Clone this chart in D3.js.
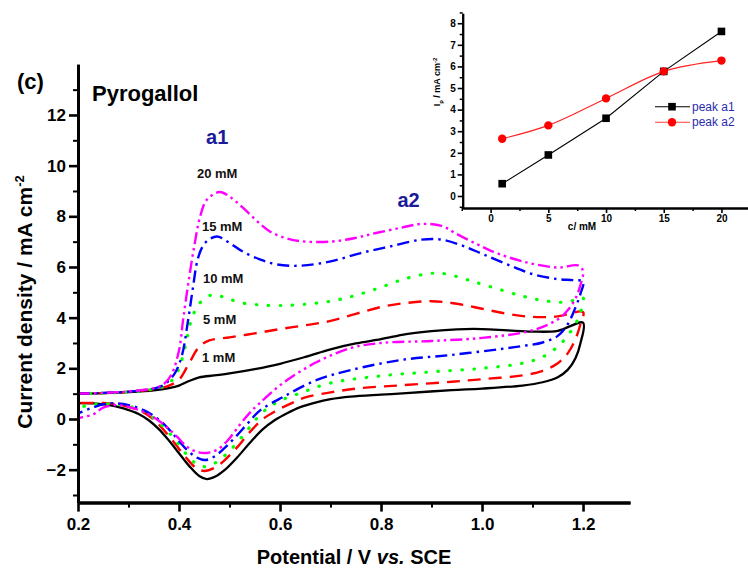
<!DOCTYPE html>
<html>
<head>
<meta charset="utf-8">
<script src="https://cdn.jsdelivr.net/npm/d3@7"></script>
<style>
  html, body { margin: 0; padding: 0; background: #fff; }
  svg { display: block; font-family: "Liberation Sans", Arial, sans-serif; }
</style>
</head>
<body>
<svg id="chart" width="748" height="568"></svg>
<script>
// Cyclic voltammograms of pyrogallol, [potential / V vs SCE, current density / mA cm^-2]
// anodic sweep 0.2 -> 1.2 V, then cathodic sweep back to 0.2 V
const cv1mMForward = [[0.20,1.00],[0.25,1.02],[0.30,1.06],[0.35,1.13],[0.38,1.22],[0.40,1.32],[0.42,1.50],[0.44,1.64],[0.47,1.72],[0.50,1.80],[0.55,1.97],[0.60,2.18],[0.65,2.45],[0.70,2.75],[0.75,2.98],[0.80,3.15],[0.85,3.35],[0.90,3.47],[0.95,3.54],[1.00,3.55],[1.05,3.50],[1.10,3.45],[1.15,3.48],[1.20,3.80]];
const cv1mMReverse = [[1.20,3.80],[1.195,3.00],[1.185,2.40],[1.17,1.95],[1.15,1.65],[1.12,1.45],[1.08,1.32],[1.00,1.20],[0.94,1.14],[0.85,1.02],[0.80,0.96],[0.74,0.88],[0.70,0.78],[0.67,0.65],[0.64,0.47],[0.615,0.24],[0.59,-0.04],[0.565,-0.42],[0.54,-0.95],[0.515,-1.52],[0.49,-2.02],[0.472,-2.27],[0.455,-2.37],[0.44,-2.25],[0.42,-1.85],[0.40,-1.35],[0.38,-0.85],[0.36,-0.40],[0.34,-0.05],[0.32,0.20],[0.29,0.42],[0.26,0.56],[0.23,0.62],[0.20,0.63]];

const cv5mMForward = [[0.20,1.00],[0.25,1.02],[0.30,1.07],[0.35,1.17],[0.38,1.32],[0.40,1.55],[0.42,2.20],[0.44,2.85],[0.46,3.10],[0.50,3.22],[0.55,3.38],[0.60,3.55],[0.65,3.70],[0.70,3.87],[0.75,4.15],[0.80,4.42],[0.85,4.58],[0.90,4.65],[0.95,4.55],[1.00,4.35],[1.05,4.15],[1.10,4.03],[1.15,4.05],[1.20,4.22]];
const cv5mMReverse = [[1.20,4.22],[1.195,3.75],[1.185,3.15],[1.17,2.60],[1.15,2.20],[1.12,1.90],[1.08,1.72],[1.00,1.57],[0.94,1.47],[0.84,1.33],[0.76,1.22],[0.70,1.05],[0.65,0.85],[0.62,0.60],[0.59,0.30],[0.565,-0.02],[0.54,-0.52],[0.515,-1.12],[0.49,-1.63],[0.47,-1.93],[0.45,-2.05],[0.435,-1.95],[0.415,-1.55],[0.395,-1.05],[0.375,-0.55],[0.355,-0.12],[0.335,0.20],[0.31,0.42],[0.28,0.57],[0.25,0.63],[0.20,0.63]];

const cv10mMForward = [[0.20,1.00],[0.25,1.02],[0.30,1.07],[0.35,1.18],[0.37,1.30],[0.39,1.62],[0.405,2.30],[0.415,3.10],[0.425,3.95],[0.44,4.55],[0.465,4.90],[0.49,4.80],[0.52,4.60],[0.56,4.50],[0.60,4.48],[0.65,4.53],[0.70,4.65],[0.75,4.88],[0.80,5.20],[0.85,5.55],[0.90,5.75],[0.93,5.72],[0.97,5.50],[1.02,5.20],[1.08,4.85],[1.13,4.65],[1.17,4.62],[1.20,4.78]];
const cv10mMReverse = [[1.20,4.78],[1.195,4.20],[1.185,3.75],[1.17,3.30],[1.15,2.85],[1.12,2.45],[1.08,2.20],[1.00,2.00],[0.90,1.86],[0.80,1.70],[0.70,1.42],[0.64,1.02],[0.60,0.72],[0.575,0.42],[0.555,0.05],[0.535,-0.45],[0.51,-1.05],[0.49,-1.45],[0.47,-1.75],[0.452,-1.88],[0.435,-1.78],[0.415,-1.40],[0.395,-0.90],[0.375,-0.42],[0.355,-0.05],[0.335,0.25],[0.31,0.45],[0.28,0.57],[0.25,0.60],[0.225,0.55],[0.20,0.45]];

const cv15mMForward = [[0.20,1.00],[0.25,1.03],[0.30,1.08],[0.35,1.20],[0.37,1.35],[0.39,1.75],[0.405,2.45],[0.418,3.90],[0.427,5.10],[0.437,6.30],[0.448,6.85],[0.462,7.12],[0.477,7.20],[0.50,6.95],[0.527,6.60],[0.56,6.30],[0.594,6.10],[0.64,6.05],[0.70,6.22],[0.76,6.55],[0.82,6.82],[0.88,7.08],[0.92,7.08],[0.96,6.85],[1.00,6.52],[1.05,6.10],[1.10,5.72],[1.15,5.52],[1.18,5.48],[1.20,5.42]];
const cv15mMReverse = [[1.20,5.42],[1.195,4.95],[1.185,4.40],[1.17,3.75],[1.15,3.28],[1.12,3.02],[1.08,2.88],[1.036,2.76],[0.94,2.53],[0.84,2.33],[0.74,1.93],[0.673,1.54],[0.606,0.87],[0.56,0.33],[0.535,-0.20],[0.51,-0.75],[0.49,-1.15],[0.47,-1.48],[0.452,-1.62],[0.435,-1.52],[0.415,-1.20],[0.395,-0.75],[0.375,-0.30],[0.355,0.05],[0.33,0.35],[0.30,0.55],[0.27,0.62],[0.25,0.58],[0.225,0.42],[0.20,0.22]];

const cv20mMForward = [[0.20,1.00],[0.25,1.03],[0.30,1.09],[0.35,1.22],[0.37,1.38],[0.385,1.75],[0.40,2.70],[0.408,3.90],[0.418,5.30],[0.43,6.80],[0.442,8.00],[0.455,8.65],[0.48,8.96],[0.50,8.78],[0.527,8.33],[0.555,7.80],[0.58,7.40],[0.61,7.15],[0.64,7.02],[0.70,7.00],[0.75,7.15],[0.79,7.34],[0.84,7.55],[0.88,7.70],[0.92,7.62],[0.95,7.30],[0.99,6.90],[1.02,6.62],[1.08,6.22],[1.15,5.98],[1.19,6.06],[1.20,5.85]];
const cv20mMReverse = [[1.20,5.85],[1.195,5.30],[1.185,4.75],[1.17,4.30],[1.155,4.00],[1.13,3.72],[1.09,3.45],[1.00,3.20],[0.90,3.08],[0.80,3.00],[0.74,2.80],[0.673,2.25],[0.606,1.42],[0.56,0.63],[0.54,0.24],[0.52,-0.24],[0.495,-0.88],[0.475,-1.22],[0.455,-1.34],[0.435,-1.30],[0.415,-1.08],[0.395,-0.68],[0.375,-0.30],[0.355,0.00],[0.33,0.28],[0.30,0.48],[0.277,0.55],[0.25,0.45],[0.23,0.18],[0.20,0.04]];

const concentrationLabels = ["1 mM", "5 mM", "10 mM", "15 mM", "20 mM"];
const xTickValues = [0.2, 0.4, 0.6, 0.8, 1.0, 1.2];
const xMinorTicks = [0.3, 0.5, 0.7, 0.9, 1.1];
const yTickValues = [-2, 0, 2, 4, 6, 8, 10, 12];
const yMinorTicks = [-3, -1, 1, 3, 5, 7, 9, 11, 13];

// Inset: peak current vs. concentration
const insetConcentration = [1, 5, 10, 15, 20];
const peakA1 = [0.57, 1.90, 3.60, 5.77, 7.62];
const peakA2 = [2.65, 3.27, 4.52, 5.77, 6.27];
const insetXTicks = [0, 5, 10, 15, 20];
const insetXMinor = [-2.5, 2.5, 7.5, 12.5, 17.5, 22.5];
const insetYTicks = [0, 1, 2, 3, 4, 5, 6, 7, 8];
const insetYMinor = [-0.5, 0.5, 1.5, 2.5, 3.5, 4.5, 5.5, 6.5, 7.5, 8.5];

// ---------------------------------------------------------------
const svg = d3.select("#chart");

const x = d3.scaleLinear().domain([0.2, 1.293]).range([78, 630]);
const y = d3.scaleLinear().domain([-3.3, 14]).range([502.6, 64.3]);

const curves = [
  { fwd: cv1mMForward,  rev: cv1mMReverse,  color: "#000000", dash: null,                 width: 2.3, cap: "butt" },
  { fwd: cv5mMForward,  rev: cv5mMReverse,  color: "#ff0000", dash: "13 8",               width: 2.4, cap: "butt" },
  { fwd: cv10mMForward, rev: cv10mMReverse, color: "#00ff00", dash: "0.5 11.5",           width: 3.2, cap: "round" },
  { fwd: cv15mMForward, rev: cv15mMReverse, color: "#0000ff", dash: "12 5 2.5 5",         width: 2.4, cap: "butt" },
  { fwd: cv20mMForward, rev: cv20mMReverse, color: "#ff00ff", dash: "12 4 2.5 4 2.5 4",   width: 2.4, cap: "butt" }
];

const line = d3.line()
  .x(d => x(d[0]))
  .y(d => y(d[1]))
  .curve(d3.curveCatmullRom.alpha(0.5));

svg.append("g").selectAll("path")
  .data(curves)
  .join("path")
  .attr("d", c => line(c.fwd.concat(c.rev.slice(1))))
  .attr("fill", "none")
  .attr("stroke", c => c.color)
  .attr("stroke-width", c => c.width)
  .attr("stroke-dasharray", c => c.dash)
  .attr("stroke-linecap", c => c.cap)
  .attr("stroke-linejoin", "round");

// Axes
function styleAxis(g, domainWidth, tickWidth, fontSize) {
  g.select(".domain").attr("stroke", "#000").attr("stroke-width", domainWidth);
  g.selectAll(".tick line").attr("stroke", "#000").attr("stroke-width", tickWidth);
  g.selectAll(".tick text")
    .attr("fill", "#000")
    .style("font-family", '"Liberation Sans", Arial, sans-serif')
    .style("font-weight", "bold")
    .style("font-size", fontSize + "px");
}

const xMinorG = svg.append("g").attr("transform", `translate(0,${y(-3.3)})`)
  .call(d3.axisBottom(x).tickValues(xMinorTicks).tickSize(5).tickFormat("").tickSizeOuter(0));
styleAxis(xMinorG, 3, 2, 17);
const xAxisG = svg.append("g").attr("transform", `translate(0,${y(-3.3)})`)
  .call(d3.axisBottom(x).tickValues(xTickValues).tickSize(9).tickPadding(6)
    .tickFormat(d3.format(".1f")).tickSizeOuter(0));
styleAxis(xAxisG, 3, 2.6, 17);

const yMinorG = svg.append("g").attr("transform", `translate(${x(0.2)},0)`)
  .call(d3.axisLeft(y).tickValues(yMinorTicks).tickSize(5).tickFormat("").tickSizeOuter(0));
styleAxis(yMinorG, 3, 2, 17);
const yAxisG = svg.append("g").attr("transform", `translate(${x(0.2)},0)`)
  .call(d3.axisLeft(y).tickValues(yTickValues).tickSize(9).tickPadding(3)
    .tickFormat(d3.format("d")).tickSizeOuter(0));
styleAxis(yAxisG, 3, 2.6, 17);

// Axis titles
const xTitle = svg.append("text")
  .attr("x", 354).attr("y", 564)
  .attr("text-anchor", "middle")
  .style("font-weight", "bold").style("font-size", "20px");
xTitle.append("tspan").text("Potential / V ");
xTitle.append("tspan").style("font-style", "italic").text("vs.");
xTitle.append("tspan").text(" SCE");

const yTitle = svg.append("text")
  .attr("transform", "translate(32,302) rotate(-90)")
  .attr("text-anchor", "middle")
  .style("font-weight", "bold").style("font-size", "21px");
yTitle.append("tspan").text("Current density / mA cm");
yTitle.append("tspan").attr("dy", -8).style("font-size", "13px").text("-2");

// Panel letter and compound name
svg.append("text").attr("x", 17).attr("y", 89)
  .style("font-weight", "bold").style("font-size", "22px").text("(c)");
svg.append("text").attr("x", 92).attr("y", 101)
  .style("font-weight", "bold").style("font-size", "22px").text("Pyrogallol");

// Peak names
const peakNames = [
  { text: "a1", at: [0.4535, 10.85] },
  { text: "a2", at: [0.8325, 8.37] }
];
svg.append("g").selectAll("text")
  .data(peakNames)
  .join("text")
  .attr("x", d => x(d.at[0])).attr("y", d => y(d.at[1]))
  .attr("fill", "#1b1b99")
  .style("font-weight", "bold").style("font-size", "20px")
  .text(d => d.text);

// Concentration labels beside each curve
const labelAnchors = [[0.4455, 2.23], [0.4475, 3.75], [0.4475, 5.37], [0.4455, 7.42], [0.4356, 9.51]];
svg.append("g").selectAll("text")
  .data(concentrationLabels)
  .join("text")
  .attr("x", (d, i) => x(labelAnchors[i][0]))
  .attr("y", (d, i) => y(labelAnchors[i][1]))
  .attr("fill", "#111")
  .style("font-weight", "bold").style("font-size", "13px")
  .text(d => d);

// ---------------------------------------------------------------
// Inset
const xi = d3.scaleLinear().domain([-2.42, 22.3]).range([462.7, 748]);
const yi = d3.scaleLinear().domain([-0.556, 8.46]).range([208, 13.3]);

const inset = svg.append("g");

const xiMinorG = inset.append("g").attr("transform", `translate(0,${yi(-0.556)})`)
  .call(d3.axisBottom(xi).tickValues(insetXMinor).tickSize(3).tickFormat("").tickSizeOuter(0));
styleAxis(xiMinorG, 2, 1.5, 10);
const xiG = inset.append("g").attr("transform", `translate(0,${yi(-0.556)})`)
  .call(d3.axisBottom(xi).tickValues(insetXTicks).tickSize(5).tickPadding(2)
    .tickFormat(d3.format("d")).tickSizeOuter(0));
styleAxis(xiG, 2, 1.6, 10);

const yiMinorG = inset.append("g").attr("transform", `translate(${xi(-2.42)},0)`)
  .call(d3.axisLeft(yi).tickValues(insetYMinor).tickSize(3).tickFormat("").tickSizeOuter(0));
styleAxis(yiMinorG, 2, 1.5, 10);
const yiG = inset.append("g").attr("transform", `translate(${xi(-2.42)},0)`)
  .call(d3.axisLeft(yi).tickValues(insetYTicks).tickSize(5).tickPadding(2)
    .tickFormat(d3.format("d")).tickSizeOuter(0));
styleAxis(yiG, 2, 1.6, 10);

inset.append("text")
  .attr("x", 582).attr("y", 229.5)
  .attr("text-anchor", "middle")
  .style("font-weight", "bold").style("font-size", "10px")
  .text("c/ mM");

const yiTitle = inset.append("text")
  .attr("transform", "translate(440,82) rotate(-90)")
  .attr("text-anchor", "middle")
  .style("font-weight", "bold").style("font-size", "9px");
yiTitle.append("tspan").text("I");
yiTitle.append("tspan").attr("dy", 2.5).style("font-size", "6px").text("p");
yiTitle.append("tspan").attr("dy", -2.5).text(" / mA cm");
yiTitle.append("tspan").attr("dy", -3.5).style("font-size", "6px").text("-2");

const a1Points = insetConcentration.map((c, i) => [c, peakA1[i]]);
const a2Points = insetConcentration.map((c, i) => [c, peakA2[i]]);

inset.append("path")
  .attr("d", d3.line().x(d => xi(d[0])).y(d => yi(d[1]))(a1Points))
  .attr("fill", "none").attr("stroke", "#000").attr("stroke-width", 1.1);
inset.append("path")
  .attr("d", d3.line().x(d => xi(d[0])).y(d => yi(d[1])).curve(d3.curveMonotoneX)(a2Points))
  .attr("fill", "none").attr("stroke", "#ff2020").attr("stroke-width", 1.1);

inset.append("g").selectAll("rect")
  .data(a1Points)
  .join("rect")
  .attr("x", d => xi(d[0]) - 3.8).attr("y", d => yi(d[1]) - 3.8)
  .attr("width", 7.6).attr("height", 7.6)
  .attr("fill", "#000");
inset.append("g").selectAll("circle")
  .data(a2Points)
  .join("circle")
  .attr("cx", d => xi(d[0])).attr("cy", d => yi(d[1]))
  .attr("r", 4.2)
  .attr("fill", "#ff0000");

// Legend
const legendItems = [
  { name: "peak a1", color: "#000", line: "#000", marker: "square" },
  { name: "peak a2", color: "#ff0000", line: "#ff4040", marker: "circle" }
];
const legend = inset.append("g");
legendItems.forEach((item, i) => {
  const ly = 106.7 + i * 15.5;
  legend.append("line")
    .attr("x1", 655).attr("x2", 690).attr("y1", ly).attr("y2", ly)
    .attr("stroke", item.line).attr("stroke-width", 1.1);
  if (item.marker === "square") {
    legend.append("rect").attr("x", 672 - 3.8).attr("y", ly - 3.8)
      .attr("width", 7.6).attr("height", 7.6).attr("fill", item.color);
  } else {
    legend.append("circle").attr("cx", 672).attr("cy", ly).attr("r", 4.2).attr("fill", item.color);
  }
  legend.append("text")
    .attr("x", 692).attr("y", ly + 3.8)
    .attr("fill", "#2b2bb0")
    .style("font-size", "12px")
    .text(item.name);
});
</script>
</body>
</html>
